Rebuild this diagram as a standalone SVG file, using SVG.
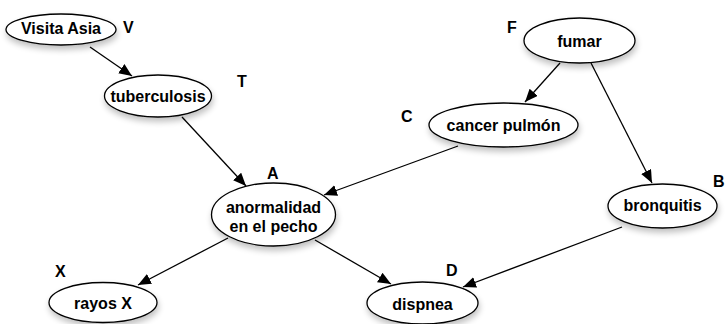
<svg xmlns="http://www.w3.org/2000/svg" width="726" height="324" viewBox="0 0 726 324">
<style>
.n{fill:#fff;stroke:#000;stroke-width:1.3;filter:url(#sh)}
.t{font-family:"Liberation Sans",Arial,sans-serif;font-weight:bold;font-size:16px;text-anchor:middle;fill:#000}
.l{font-family:"Liberation Sans",Arial,sans-serif;font-weight:bold;font-size:16px;fill:#000}
.e{stroke:#000;stroke-width:1.3;fill:none;marker-end:url(#ah)}
</style>
<defs>
<filter id="sh" x="-30%" y="-30%" width="160%" height="180%">
<feGaussianBlur in="SourceAlpha" stdDeviation="3"/>
<feOffset dx="1" dy="4" result="b"/>
<feComponentTransfer><feFuncA type="linear" slope="0.25"/></feComponentTransfer>
<feMerge><feMergeNode/><feMergeNode in="SourceGraphic"/></feMerge>
</filter>
<marker id="ah" markerUnits="userSpaceOnUse" markerWidth="14" markerHeight="12" refX="13" refY="5.5" orient="auto">
<path d="M0,0 L13,5.5 L0,11 z" fill="#000"/>
</marker>
</defs>
<g id="edges">
<line class="e" x1="90" y1="47" x2="132" y2="76"/>
<line class="e" x1="182" y1="117" x2="246" y2="186"/>
<line class="e" x1="458" y1="146" x2="324" y2="195"/>
<line class="e" x1="560" y1="63" x2="525" y2="102"/>
<line class="e" x1="591" y1="63" x2="652" y2="183"/>
<line class="e" x1="228" y1="238" x2="138" y2="285"/>
<line class="e" x1="315" y1="240" x2="391" y2="284"/>
<line class="e" x1="622" y1="227" x2="463" y2="287"/>
</g>
<g id="V"><ellipse class="n" cx="61" cy="29.5" rx="55" ry="15.5"/><text class="t" x="61" y="34">Visita Asia</text><text class="l" x="123" y="33">V</text></g>
<g id="T"><ellipse class="n" cx="158" cy="96" rx="53.5" ry="21"/><text class="t" x="158" y="101.5">tuberculosis</text><text class="l" x="237" y="87">T</text></g>
<g id="F"><ellipse class="n" cx="579.5" cy="40.5" rx="55.5" ry="22.5"/><text class="t" x="579.5" y="46.5">fumar</text><text class="l" x="507" y="33">F</text></g>
<g id="C"><ellipse class="n" cx="503.5" cy="125" rx="74.5" ry="22"/><text class="t" x="503.5" y="130.5">cancer pulmón</text><text class="l" x="401" y="122">C</text></g>
<g id="A"><ellipse class="n" cx="273.5" cy="214.5" rx="62" ry="31.5"/><text class="t" x="273.5" y="212.5">anormalidad</text><text class="t" x="273.5" y="231.5">en el pecho</text><text class="l" x="267" y="179">A</text></g>
<g id="B"><ellipse class="n" cx="662.5" cy="206" rx="54.5" ry="22"/><text class="t" x="662.5" y="211">bronquitis</text><text class="l" x="713" y="187">B</text></g>
<g id="X"><ellipse class="n" cx="103" cy="302.5" rx="54" ry="20"/><text class="t" x="103" y="309">rayos X</text><text class="l" x="55" y="277">X</text></g>
<g id="D"><ellipse class="n" cx="422.5" cy="303" rx="55.5" ry="21"/><text class="t" x="422.5" y="309.5">dispnea</text><text class="l" x="446" y="276">D</text></g>
</svg>
